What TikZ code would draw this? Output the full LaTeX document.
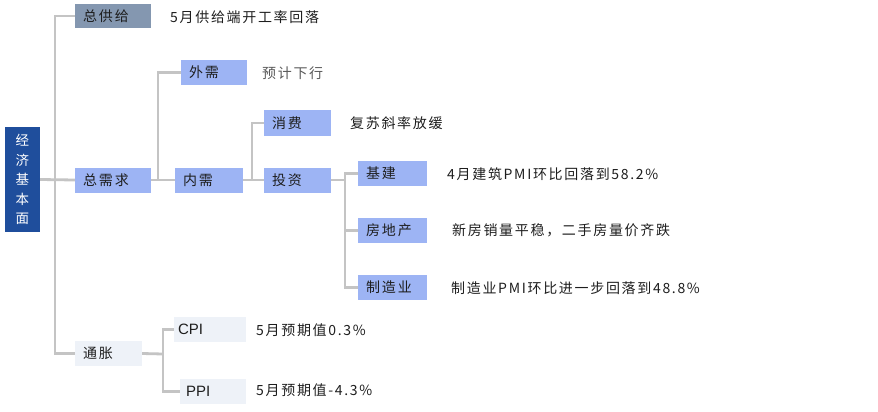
\documentclass[tikz,border=0pt]{standalone}
\usepackage{fontspec}
\newfontfamily\cjk[LetterSpace=12]{Noto Sans CJK SC}
\newfontfamily\cjkbox[LetterSpace=14]{Noto Sans CJK SC}
\newfontfamily\lat{Liberation Sans}
\definecolor{rootc}{HTML}{1F4E9C}
\definecolor{supc}{HTML}{8497B0}
\definecolor{bluec}{HTML}{9DB4F4}
\definecolor{grayc}{HTML}{EEF2F8}
\definecolor{linec}{HTML}{C4C4C4}
\definecolor{txtc}{HTML}{1E1E1E}
\begin{document}
\begin{tikzpicture}[x=1pt,y=-1pt,
  bx/.style={rectangle, draw=none, minimum height=25pt, inner xsep=8pt, inner ysep=0pt,
    text width=#1-16pt, align=left, font=\cjkbox\fontsize{14}{16}\selectfont, text=txtc},
  bbox/.style={bx=#1, fill=bluec},
  gbox/.style={bx=#1, fill=grayc},
  note/.style={anchor=west, inner sep=0pt, font=\cjk\fontsize{14}{16}\selectfont, text=txtc},
  conn/.style={draw=linec, line width=2.8pt}]
\useasboundingbox (0,0) rectangle (878,412);
\fill[white] (0,0) rectangle (878,412);
% nodes
\node[rectangle, fill=rootc, minimum width=35pt, minimum height=105pt, inner sep=0pt,
  align=center, text=white, font=\cjk\fontsize{13.5}{19.5}\selectfont] (root) at (22.5,179.5)
  {经\\济\\基\\本\\面};
\node[bx=76pt, fill=supc, minimum height=24pt] (gong) at (113,16) {总供给};
\node[bbox=76pt] (zxq) at (113,180) {总需求};
\node[bbox=68pt] (nx) at (209,180) {内需};
\node[bbox=66pt] (wx) at (214,72.5) {外需};
\node[bbox=67pt, minimum height=26pt] (xf) at (297.5,123) {消费};
\node[bbox=67pt] (tzi) at (297.5,180.5) {投资};
\node[bbox=69pt] (jj) at (392.5,173.5) {基建};
\node[bbox=69pt] (fdc) at (392.5,230.5) {房地产};
\node[bbox=69pt] (zzy) at (392.5,287.5) {制造业};
\node[gbox=67pt] (tzh) at (108.5,353.5) {通胀};
\node[gbox=72pt, inner xsep=4pt, text width=64pt, font=\lat\fontsize{15}{17}\selectfont] (cpi) at (210,329.5) {CPI};
\node[gbox=66pt, inner xsep=6pt, text width=54pt, font=\lat\fontsize{15}{17}\selectfont] (ppi) at (213,391.5) {PPI};
% notes
\node[note] (n1) at (170,17) {5月供给端开工率回落};
\node[note, text=black!65] (n2) at (262,73) {预计下行};
\node[note] (n3) at (350,123) {复苏斜率放缓};
\node[note] (n4) at (447,174) {4月建筑PMI环比回落到58.2\%};
\node[note] (n5) at (452,230) {新房销量平稳，二手房量价齐跌};
\node[note] (n6) at (451,288) {制造业PMI环比进一步回落到48.8\%};
\node[note] (n7) at (256,330) {5月预期值0.3\%};
\node[note] (n8) at (256,390) {5月预期值-4.3\%};
% junctions
\coordinate (j0) at (55,180);
\coordinate (j1) at (158,180);
\coordinate (j2) at (252,180);
\coordinate (j3) at (345,180);
\coordinate (j4) at (163,354);
% connectors
\draw[conn] (root.east) -- (zxq.west);
\draw[conn] (gong.west) -| (j0);
\draw[conn] (tzh.west) -| (j0);
\draw[conn] (zxq.east) -- (nx.west);
\draw[conn] (wx.west) -| (j1);
\draw[conn] (nx.east) -- (tzi.west |- j2);
\draw[conn] (xf.west) -| (j2);
\draw[conn] (tzi.east |- j3) -- (j3);
\draw[conn] (jj.west) -| (j3);
\draw[conn] (fdc.west) -| (j3);
\draw[conn] (zzy.west) -| (j3);
\draw[conn] (tzh.east) -- (j4);
\draw[conn] (cpi.west) -| (j4);
\draw[conn] (ppi.west) -| (j4);
\end{tikzpicture}
\end{document}
